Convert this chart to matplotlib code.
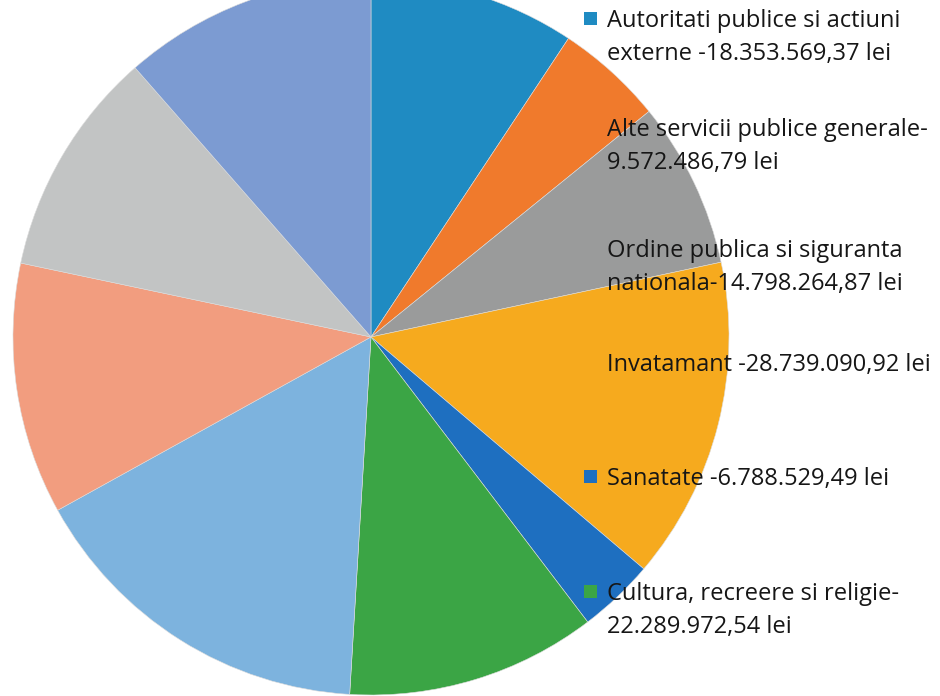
import matplotlib
matplotlib.use("Agg")
import matplotlib.pyplot as plt
from matplotlib.patches import Rectangle

# ---- data ----
categories = [
    "Autoritati publice si actiuni\nexterne -18.353.569,37 lei",
    "Alte servicii publice generale-\n9.572.486,79 lei",
    "Ordine publica si siguranta\nnationala-14.798.264,87 lei",
    "Invatamant -28.739.090,92 lei",
    "Sanatate -6.788.529,49 lei",
    "Cultura, recreere si religie-\n22.289.972,54 lei",
    "Asigurari si asistenta sociala",
    "Locuinte, servicii si dezvoltare publica",
    "Protectia mediului",
    "Actiuni generale economice",
]
values = [18353569.37, 9572486.79, 14798264.87, 28739090.92, 6788529.49,
          22289972.54, 31600000, 22400000, 20200000, 22600000]
colors = ["#1f8bc2", "#f07a2c", "#9a9b9b", "#f6aa1e", "#1e6fc0",
          "#3ba545", "#7db3de", "#f29d7f", "#c2c4c4", "#7c9bd2"]
legend_shown = 6  # entries visible in the cropped legend

W, H = 940, 696
fig = plt.figure(figsize=(W / 100, H / 100), dpi=100)
fig.patch.set_facecolor("white")

cx, cy, r = 371, 337, 358
ax = fig.add_axes([(cx - r) / W, (H - cy - r) / H, 2 * r / W, 2 * r / H])
ax.pie(values, colors=colors, startangle=90, counterclock=False, radius=1,
       wedgeprops=dict(edgecolor="#dcdcdc", linewidth=0.4))
ax.set_xlim(-1, 1)
ax.set_ylim(-1, 1)
ax.set_aspect("equal")
ax.axis("off")

# legend laid out manually (pixel positions of first line centers)
legend_y = [18, 127, 248, 362, 476, 591]
text_x, box_x, box = 607, 584, 13
line_h = 33
for i in range(legend_shown):
    y = legend_y[i]
    fig.patches.append(Rectangle((box_x / W, (H - y - box / 2) / H), box / W, box / H,
                                 transform=fig.transFigure, facecolor=colors[i],
                                 edgecolor="none", zorder=5))
    lines = categories[i].split("\n")
    for k, ln in enumerate(lines):
        fig.text(text_x / W, (H - y - k * line_h) / H, ln, ha="left", va="center_baseline",
                 fontsize=17, family="Open Sans", color="#161616", zorder=6)

fig.savefig("out.png", dpi=100)
